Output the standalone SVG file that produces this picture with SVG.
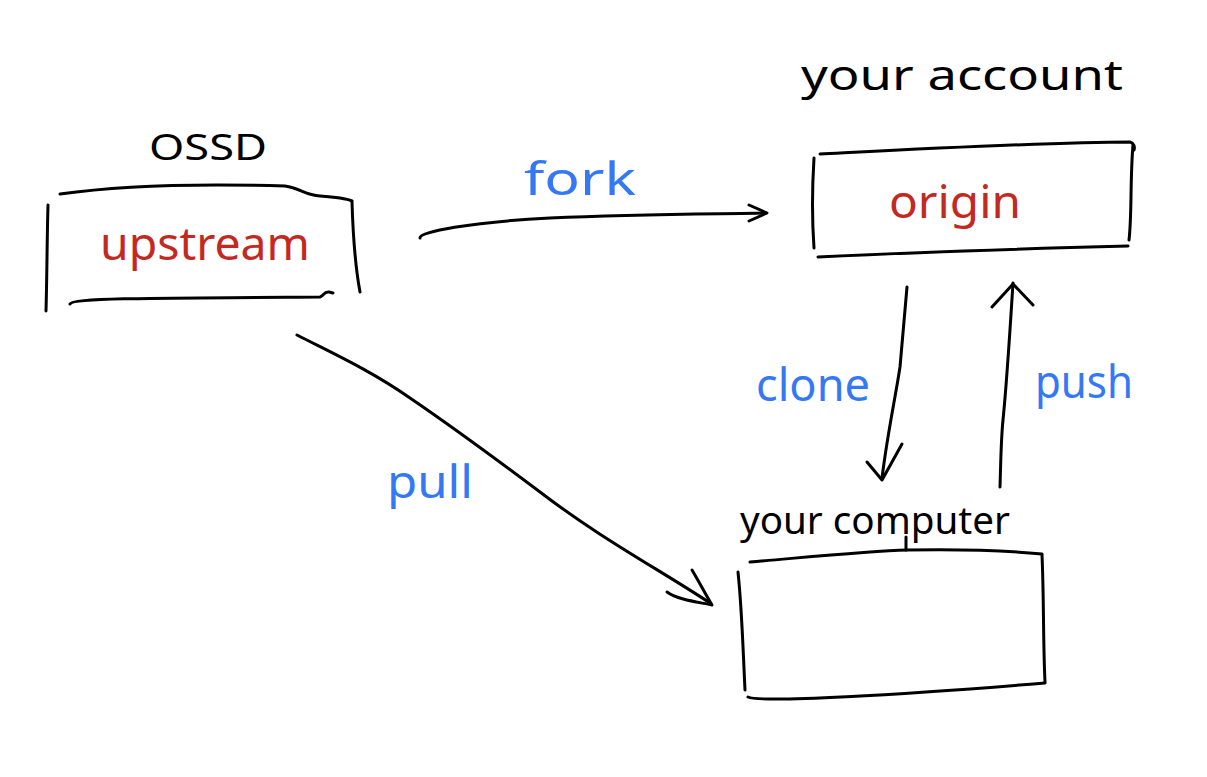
<svg xmlns="http://www.w3.org/2000/svg" width="1207" height="777" viewBox="0 0 1207 777">
  <style>
    .ink { fill: none; stroke: #000; stroke-width: 3; stroke-linecap: round; stroke-linejoin: round; }
    .lbl { font-family: "Noto Sans", "Liberation Sans", sans-serif; fill: #000; }
    .name { font-family: "Noto Sans", "Liberation Sans", sans-serif; fill: #c4291f; }
    .edge { font-family: "Noto Sans", "Liberation Sans", sans-serif; fill: #3478f6; }
  </style>
  <rect width="1207" height="777" fill="#fff"/>

  <g id="upstream">
    <path class="ink" d="M48,205 C47,240 47,275 46,311"/>
    <path class="ink" d="M60,194 C130,184 220,184 285,186 C300,188 305,195 320,196 C335,197 345,198 352,201"/>
    <path class="ink" d="M352,202 C353,235 355,265 360,292"/>
    <path class="ink" d="M70,304 C72,298 150,298 320,297 C324,296 324,291 329,292 L333,293"/>
    <text class="name" x="205" y="260" font-size="46" text-anchor="middle" textLength="210" lengthAdjust="spacingAndGlyphs">upstream</text>
    <text class="lbl" x="208" y="160" font-size="36" text-anchor="middle" textLength="118" lengthAdjust="spacingAndGlyphs">OSSD</text>
  </g>

  <g id="origin">
    <path class="ink" d="M814,158 C812,190 812,220 814,248"/>
    <path class="ink" d="M820,154 C900,150 1050,142 1130,142 C1134,143 1135,147 1134,150"/>
    <path class="ink" d="M1133,145 C1130,180 1132,215 1129,240"/>
    <path class="ink" d="M818,257 C900,253 1050,248 1128,246"/>
    <text class="name" x="955" y="218" font-size="46" text-anchor="middle" textLength="132" lengthAdjust="spacingAndGlyphs">origin</text>
    <text class="lbl" x="962" y="90" font-size="42" text-anchor="middle" textLength="322" lengthAdjust="spacingAndGlyphs">your account</text>
  </g>

  <g id="computer">
    <path class="ink" d="M750,562 C820,556 870,551 907,550 C960,549 1000,550 1042,554"/>
    <path class="ink" d="M738,572 C742,610 743,650 745,690"/>
    <path class="ink" d="M1042,555 C1044,600 1043,640 1045,682"/>
    <path class="ink" d="M748,697 C760,703 900,695 1045,683"/>
    <path class="ink" d="M906,537 L906,550" stroke-width="2"/>
    <text class="lbl" x="875" y="534" font-size="38" text-anchor="middle" textLength="270" lengthAdjust="spacingAndGlyphs">your computer</text>
  </g>

  <g id="connectors">
    <path class="ink" d="M420,238 C419,232 470,222 550,218 C640,214 720,214 766,213"/>
    <path class="ink" d="M749,205 L767,213 L749,221"/>
    <text class="edge" x="580" y="195" font-size="46" text-anchor="middle" textLength="112" lengthAdjust="spacingAndGlyphs">fork</text>

    <path class="ink" d="M297,335 C330,352 370,370 410,398 C460,432 500,462 540,492 C600,538 660,570 710,603"/>
    <path class="ink" d="M692,570 C698,580 706,595 712,605 C698,602 678,600 667,592"/>
    <text class="edge" x="430" y="498" font-size="46" text-anchor="middle" textLength="86" lengthAdjust="spacingAndGlyphs">pull</text>

    <path class="ink" d="M907,287 C904,320 902,345 900,367 C895,400 888,430 882,478"/>
    <path class="ink" d="M867,462 L882,480 L902,444"/>
    <text class="edge" x="813" y="401" font-size="46" text-anchor="middle" textLength="114" lengthAdjust="spacingAndGlyphs">clone</text>

    <path class="ink" d="M1000,487 C1001,455 1001,440 1003,420 C1007,380 1010,330 1013,283"/>
    <path class="ink" d="M992,307 L1013,284 L1033,305"/>
    <text class="edge" x="1084" y="398" font-size="46" text-anchor="middle" textLength="98" lengthAdjust="spacingAndGlyphs">push</text>
  </g>
</svg>
